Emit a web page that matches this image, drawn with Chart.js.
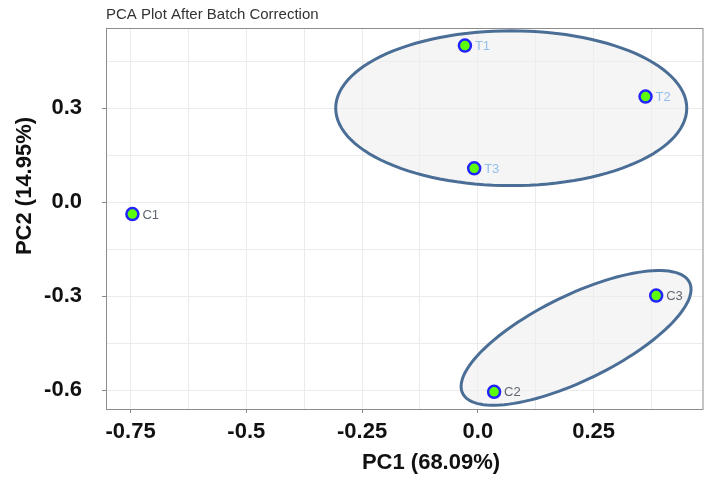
<!DOCTYPE html>
<html>
<head>
<meta charset="utf-8">
<script src="https://cdn.jsdelivr.net/npm/chart.js@4/dist/chart.umd.min.js"></script>
<style>
  body { margin: 0; background: #fff; }
  #wrap { width: 711px; height: 487px; }
</style>
</head>
<body>
<div id="wrap"><canvas id="pca" width="711" height="487"></canvas></div>
<script>
const sampleNames = ['T1', 'T2', 'T3', 'C1', 'C2', 'C3'];
const pc1 = [-0.028, 0.362, -0.008, -0.746, 0.035, 0.385];
const pc2 = [0.500, 0.337, 0.108, -0.038, -0.605, -0.298];
const labelColors = ['#93bfeb', '#93bfeb', '#93bfeb', '#5f6670', '#5f6670', '#5f6670'];

// group ellipses: centre + two semi-axis vectors, all in data units
const groupCenterX = [0.072, 0.212];
const groupCenterY = [0.300, -0.433];
const groupAxisA = [[0.379, 0], [0.245, 0.177]];
const groupAxisB = [[0, 0.247], [-0.040, 0.122]];

const xMajor = [-0.75, -0.5, -0.25, 0, 0.25];
const xLabels = ['-0.75', '-0.5', '-0.25', '0.0', '0.25'];
const xGrid = [-0.75, -0.625, -0.5, -0.375, -0.25, -0.125, 0, 0.125, 0.25, 0.375];
const yMajor = [0.3, 0, -0.3, -0.6];
const yLabels = ['0.3', '0.0', '-0.3', '-0.6'];
const yGrid = [0.45, 0.3, 0.15, 0, -0.15, -0.3, -0.45, -0.6];

const chartTitle = 'PCA Plot After Batch Correction';
const xTitle = 'PC1 (68.09%)';
const yTitle = 'PC2 (14.95%)';

const tickFont = { family: 'Liberation Sans, Arial, sans-serif', size: 22, weight: 'bold' };

const isMajor = (list, v) => list.some(m => Math.abs(m - v) < 1e-6);
const labelFor = (list, labels, v) => {
    const i = list.findIndex(m => Math.abs(m - v) < 1e-6);
    return i >= 0 ? labels[i] : '';
};

const ellipsePlugin = {
    id: 'ellipses',
    beforeDatasetsDraw(chart) {
        const ctx = chart.ctx;
        const xs = chart.scales.x, ys = chart.scales.y;
        ctx.save();
        for (let g = 0; g < groupCenterX.length; g++) {
            ctx.beginPath();
            for (let k = 0; k <= 120; k++) {
                const t = k / 120 * Math.PI * 2;
                const vx = groupCenterX[g] + groupAxisA[g][0] * Math.cos(t) + groupAxisB[g][0] * Math.sin(t);
                const vy = groupCenterY[g] + groupAxisA[g][1] * Math.cos(t) + groupAxisB[g][1] * Math.sin(t);
                const px = xs.getPixelForValue(vx), py = ys.getPixelForValue(vy);
                if (k == 0) ctx.moveTo(px, py); else ctx.lineTo(px, py);
            }
            ctx.closePath();
            ctx.fillStyle = 'rgba(238,238,238,0.6)';
            ctx.fill();
            ctx.lineWidth = 3;
            ctx.strokeStyle = '#4b6e96';
            ctx.stroke();
        }
        ctx.restore();
    },
    afterDatasetsDraw(chart) {
        const ctx = chart.ctx;
        const meta = chart.getDatasetMeta(0);
        ctx.save();
        ctx.font = '13px "Liberation Sans", Arial, sans-serif';
        ctx.textBaseline = 'middle';
        ctx.textAlign = 'left';
        meta.data.forEach((pt, i) => {
            ctx.fillStyle = labelColors[i];
            ctx.fillText(sampleNames[i], pt.x + 10, pt.y + 1);
        });
        ctx.restore();
    },
    afterDraw(chart) {
        const ctx = chart.ctx;
        const area = chart.chartArea;
        ctx.save();
        ctx.strokeStyle = '#8c8c8c';
        ctx.lineWidth = 1;
        ctx.strokeRect(area.left + 0.5, area.top + 0.5, area.right - area.left, area.bottom - area.top);

        ctx.fillStyle = '#333';
        ctx.font = '15px "Liberation Sans", Arial, sans-serif';
        ctx.textBaseline = 'middle';
        ctx.textAlign = 'left';
        ctx.fillText(chartTitle, area.left, 15);

        ctx.fillStyle = '#111';
        ctx.font = 'bold 22px "Liberation Sans", Arial, sans-serif';
        ctx.textAlign = 'center';
        ctx.fillText(xTitle, area.left + 325, area.bottom + 54);

        ctx.translate(25, area.top + 158);
        ctx.rotate(-Math.PI / 2);
        ctx.fillText(yTitle, 0, 0);
        ctx.restore();
    }
};

new Chart(document.getElementById('pca'), {
    type: 'scatter',
    data: {
        datasets: [{
            data: pc1.map((x, i) => ({ x: x, y: pc2[i] })),
            pointRadius: 6,
            pointHoverRadius: 6,
            borderWidth: 2.5,
            backgroundColor: '#5cff0a',
            borderColor: '#2323ff'
        }]
    },
    options: {
        responsive: false,
        animation: false,
        events: [],
        layout: { padding: { top: 28, right: 6, left: 0, bottom: 0 } },
        plugins: {
            legend: { display: false },
            tooltip: { enabled: false },
            title: { display: false }
        },
        scales: {
            x: {
                type: 'linear',
                min: -0.803,
                max: 0.485,
                afterBuildTicks: s => { s.ticks = xGrid.map(v => ({ value: v })); },
                afterFit: s => { s.height = 78; s.paddingLeft = 0; s.paddingRight = 0; },
                border: { display: false },
                grid: {
                    color: '#ebebeb',
                    tickLength: 4,
                    tickColor: c => isMajor(xMajor, c.tick.value) ? '#888' : 'rgba(0,0,0,0)'
                },
                ticks: {
                    autoSkip: false,
                    maxRotation: 0,
                    padding: 6,
                    color: '#111',
                    font: tickFont,
                    callback: v => labelFor(xMajor, xLabels, v)
                }
            },
            y: {
                type: 'linear',
                min: -0.660,
                max: 0.556,
                afterBuildTicks: s => { s.ticks = yGrid.map(v => ({ value: v })); },
                afterFit: s => { s.width = 106; s.paddingTop = 0; s.paddingBottom = 0; },
                border: { display: false },
                grid: {
                    color: '#ebebeb',
                    tickLength: 4,
                    tickColor: c => isMajor(yMajor, c.tick.value) ? '#888' : 'rgba(0,0,0,0)'
                },
                ticks: {
                    autoSkip: false,
                    padding: 20,
                    color: '#111',
                    font: tickFont,
                    callback: v => labelFor(yMajor, yLabels, v)
                }
            }
        }
    },
    plugins: [ellipsePlugin]
});
</script>
</body>
</html>
